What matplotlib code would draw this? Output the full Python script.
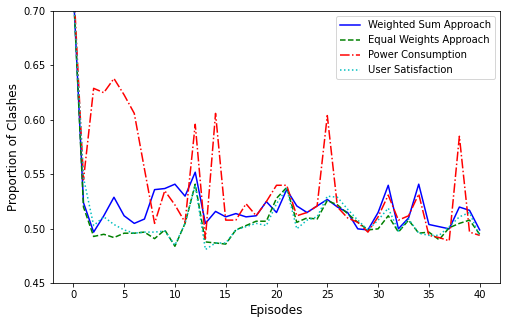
import numpy as np
import matplotlib
matplotlib.use('Agg')
import matplotlib.pyplot as plt


episodes = np.arange(41)

weighted_sum = [0.720, 0.524, 0.497, 0.512, 0.529, 0.512, 0.505, 0.509, 0.536, 0.537,
                0.541, 0.530, 0.552, 0.505, 0.516, 0.511, 0.514, 0.511, 0.512, 0.525,
                0.515, 0.536, 0.521, 0.515, 0.521, 0.527, 0.520, 0.515, 0.500, 0.499,
                0.515, 0.540, 0.500, 0.510, 0.541, 0.504, 0.502, 0.500, 0.520, 0.517,
                0.499]

equal_weights = [0.720, 0.520, 0.493, 0.495, 0.492, 0.496, 0.496, 0.497, 0.491, 0.499,
                 0.484, 0.505, 0.541, 0.488, 0.487, 0.486, 0.499, 0.503, 0.507, 0.507,
                 0.528, 0.538, 0.506, 0.510, 0.509, 0.526, 0.522, 0.514, 0.506, 0.499,
                 0.500, 0.512, 0.497, 0.508, 0.496, 0.497, 0.490, 0.501, 0.505, 0.508,
                 0.495]

power_consumption = [0.730, 0.545, 0.629, 0.625, 0.638, 0.623, 0.606, 0.555, 0.505, 0.535,
                     0.522, 0.506, 0.596, 0.491, 0.606, 0.508, 0.508, 0.523, 0.512, 0.525,
                     0.540, 0.540, 0.512, 0.515, 0.521, 0.604, 0.520, 0.510, 0.506, 0.497,
                     0.511, 0.531, 0.508, 0.512, 0.532, 0.494, 0.492, 0.489, 0.585, 0.497,
                     0.494]

user_satisfaction = [0.720, 0.547, 0.503, 0.511, 0.504, 0.499, 0.496, 0.497, 0.497, 0.498,
                     0.485, 0.505, 0.540, 0.481, 0.487, 0.487, 0.499, 0.502, 0.505, 0.503,
                     0.523, 0.537, 0.500, 0.508, 0.511, 0.530, 0.529, 0.518, 0.508, 0.499,
                     0.508, 0.519, 0.498, 0.509, 0.496, 0.494, 0.494, 0.502, 0.511, 0.515,
                     0.493]

fig = plt.figure(figsize=(507 / 72, 324 / 72), dpi=72)
ax = fig.add_axes([53 / 507, 1 - 283.3 / 324, 447 / 507, 272.3 / 324])

ax.plot(episodes, weighted_sum, 'b-', label='Weighted Sum Approach')
ax.plot(episodes, equal_weights, 'g--', label='Equal Weights Approach')
ax.plot(episodes, power_consumption, 'r-.', label='Power Consumption')
ax.plot(episodes, user_satisfaction, 'c:', label='User Satisfaction')

ax.set_ylim(0.45, 0.70)
ax.set_xlabel('Episodes', fontsize=12)
ax.set_ylabel('Proportion of Clashes', fontsize=12)
ax.legend(loc='upper right')

fig.savefig('out.png', dpi=72)
